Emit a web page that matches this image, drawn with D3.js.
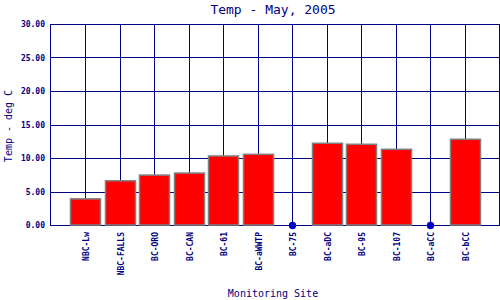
<!DOCTYPE html>
<html lang="en">
<head>
<meta charset="utf-8">
<title>Temp - May, 2005</title>
<script src="https://d3js.org/d3.v7.js"></script>
<style>
  body { margin: 0; background: #fff; }
  text { font-family: "DejaVu Sans Mono", monospace; fill: #000080; }
</style>
</head>
<body>
<div id="chart"></div>
<script>
// monitoring sites and temps (null = no reading, drawn as a dot on zero)
const sites = ["NBC-Lw", "NBC-FALLS", "BC-ORO", "BC-CAN", "BC-61", "BC-aWWTP",
               "BC-75", "BC-aDC", "BC-95", "BC-107", "BC-aCC", "BC-bCC"];
const temps = [3.9, 6.6, 7.45, 7.75, 10.3, 10.55, null, 12.2, 12.05, 11.3, null, 12.8];
const yTicks = [0, 5, 10, 15, 20, 25, 30];

const W = 500, H = 300;
const plotL = 50, plotR = 499, plotT = 24, plotB = 225;
const navy = "#000080";

const svg = d3.select("#chart").append("svg")
    .attr("width", W)
    .attr("height", H);

const x = d3.scaleLinear().domain([0, sites.length + 1]).range([plotL + 0.5, plotR + 0.5]);
const y = d3.scaleLinear().domain([0, 30]).range([plotB, plotT]);

// grid
const grid = svg.append("g").attr("stroke", navy).attr("stroke-width", 1);
grid.selectAll(".h").data(yTicks).enter().append("line")
    .attr("x1", plotL).attr("x2", plotR + 1)
    .attr("y1", d => Math.round(y(d)) + 0.5).attr("y2", d => Math.round(y(d)) + 0.5);
grid.selectAll(".v").data(sites).enter().append("line")
    .attr("x1", (d, i) => Math.round(x(i + 1)) + 0.5).attr("x2", (d, i) => Math.round(x(i + 1)) + 0.5)
    .attr("y1", plotT).attr("y2", plotB);
grid.append("line").attr("x1", plotL + 0.5).attr("x2", plotL + 0.5).attr("y1", plotT).attr("y2", plotB + 1);
grid.append("line").attr("x1", plotR + 0.5).attr("x2", plotR + 0.5).attr("y1", plotT).attr("y2", plotB + 1);

// bars
const data = sites.map((s, i) => ({site: s, v: temps[i], i: i}));
svg.append("g").selectAll("rect")
  .data(data.filter(d => d.v !== null))
  .enter().append("rect")
    .attr("x", d => Math.round(x(d.i + 1)) - 14.5)
    .attr("y", d => y(d.v))
    .attr("width", 30)
    .attr("height", d => plotB - y(d.v))
    .attr("fill", "#ff0000")
    .attr("stroke", "#808080")
    .attr("stroke-width", 1.5);

// missing readings
svg.append("g").selectAll("circle")
  .data(data.filter(d => d.v === null))
  .enter().append("circle")
    .attr("cx", d => Math.round(x(d.i + 1)) + 0.5)
    .attr("cy", y(0) + 0.5)
    .attr("r", 3.7)
    .attr("fill", "#0000cc");

// y tick labels
svg.append("g").selectAll("text")
  .data(yTicks).enter().append("text")
    .attr("x", 45)
    .attr("y", d => y(d) + 3)
    .attr("text-anchor", "end")
    .style("font-size", "8px")
    .style("font-weight", "bold")
    .text(d => d3.format(".2f")(d));

// x tick labels
svg.append("g").selectAll("text")
  .data(sites).enter().append("text")
    .attr("transform", (d, i) => `translate(${Math.round(x(i + 1)) + 3.5},232) rotate(-90)`)
    .attr("text-anchor", "end")
    .style("font-size", "8px")
    .style("font-weight", "bold")
    .text(d => d);

// titles
svg.append("text")
    .attr("x", 273).attr("y", 13.5)
    .attr("text-anchor", "middle")
    .style("font-size", "13px")
    .text("Temp - May, 2005");

svg.append("text")
    .attr("transform", "translate(12,126) rotate(-90)")
    .attr("text-anchor", "middle")
    .style("font-size", "10px")
    .text("Temp - deg C");

svg.append("text")
    .attr("x", 273).attr("y", 297)
    .attr("text-anchor", "middle")
    .style("font-size", "10px")
    .text("Monitoring Site");
</script>
</body>
</html>
